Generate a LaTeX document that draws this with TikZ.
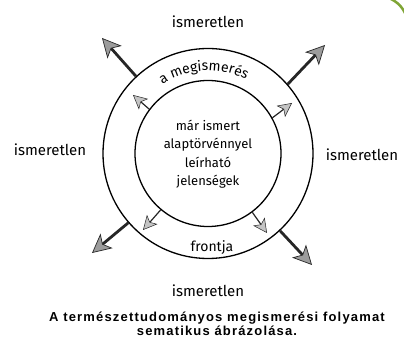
\documentclass[tikz,border=0pt]{standalone}
\usepackage{fontspec}
\setmainfont{Fira Sans}
\newfontfamily\capfont[LetterSpace=9]{Liberation Sans}
\usepackage{tikz}
\usetikzlibrary{arrows.meta, decorations.text}
\definecolor{headgray}{HTML}{9C9C9C}
\definecolor{headlight}{HTML}{C4C4C4}
\definecolor{badge}{HTML}{7FA535}

\begin{document}
\begin{tikzpicture}[x=1pt, y=1pt, font=\fontsize{13}{18.5}\selectfont,
  ring/.style={draw, circle, line width=1.3pt, inner sep=0pt},
  outlabel/.style={font=\fontsize{15}{18}\selectfont},
  bigarrow/.style={line width=2.8pt, draw=black!85,
    -{Stealth[length=19pt, width=19pt, inset=5pt, line width=0.7pt, fill=headgray]}},
  smallarrow/.style={line width=1.2pt, draw=black!85,
    -{Stealth[length=14pt, width=14pt, inset=3.5pt, line width=0.5pt, fill=headlight]}}]
  \useasboundingbox (0,0) rectangle (404,345);
  % Rings
  \coordinate (c) at (208,191.5);
  \node[ring, minimum size=210pt] (outer) at (c) {};
  \node[ring, minimum size=146pt] (inner) at (c) {};
  % Inner text
  \node[align=center] (known) at (208,191) {már ismert\\alaptörvénnyel\\leírható\\jelenségek};
  % Ring text
  \path[decorate, decoration={text along path, text align=center,
    text={|\fontsize{14}{16}\selectfont|a megismerés}}] ([shift={(142:83)}]c) arc[start angle=142, end angle=44, radius=83];
  \node[font=\fontsize{14}{16}\selectfont] (front) at (212,97) {frontja};
  % Outer labels
  \node[outlabel] (top) at (208,323) {ismeretlen};
  \node[outlabel] (bottom) at (208,54) {ismeretlen};
  \node[outlabel] (left) at (50,195) {ismeretlen};
  \node[outlabel] (right) at (362,190) {ismeretlen};
  % Big arrows
  \coordinate (tl) at (102,307);
  \coordinate (tr) at (325,300);
  \coordinate (bl) at (92,92);
  \coordinate (br) at (312,80);
  \draw[bigarrow] (outer.133) -- (tl);
  \draw[bigarrow] (outer.41) -- (tr);
  \draw[bigarrow] (outer.221) -- (bl);
  \draw[bigarrow] (outer.313) -- (br);
  % Small arrows
  \coordinate (stl) at (133,250);
  \coordinate (str) at (292,242);
  \coordinate (sbl) at (143,115);
  \coordinate (sbr) at (267,112);
  \draw[smallarrow] (inner.143) -- (stl);
  \draw[smallarrow] (inner.29) -- (str);
  \draw[smallarrow] (inner.230) -- (sbl);
  \draw[smallarrow] (inner.307) -- (sbr);
  % Caption
  \node[font=\capfont\bfseries\fontsize{13}{14}\selectfont, align=center] (caption) at (217,21)
    {A természettudományos megismerési folyamat\\sematikus ábrázolása.};
  % Corner badge
  \draw[badge, line width=2.5pt] (389,347) to[bend left=20] (406,330);
\end{tikzpicture}
\end{document}
